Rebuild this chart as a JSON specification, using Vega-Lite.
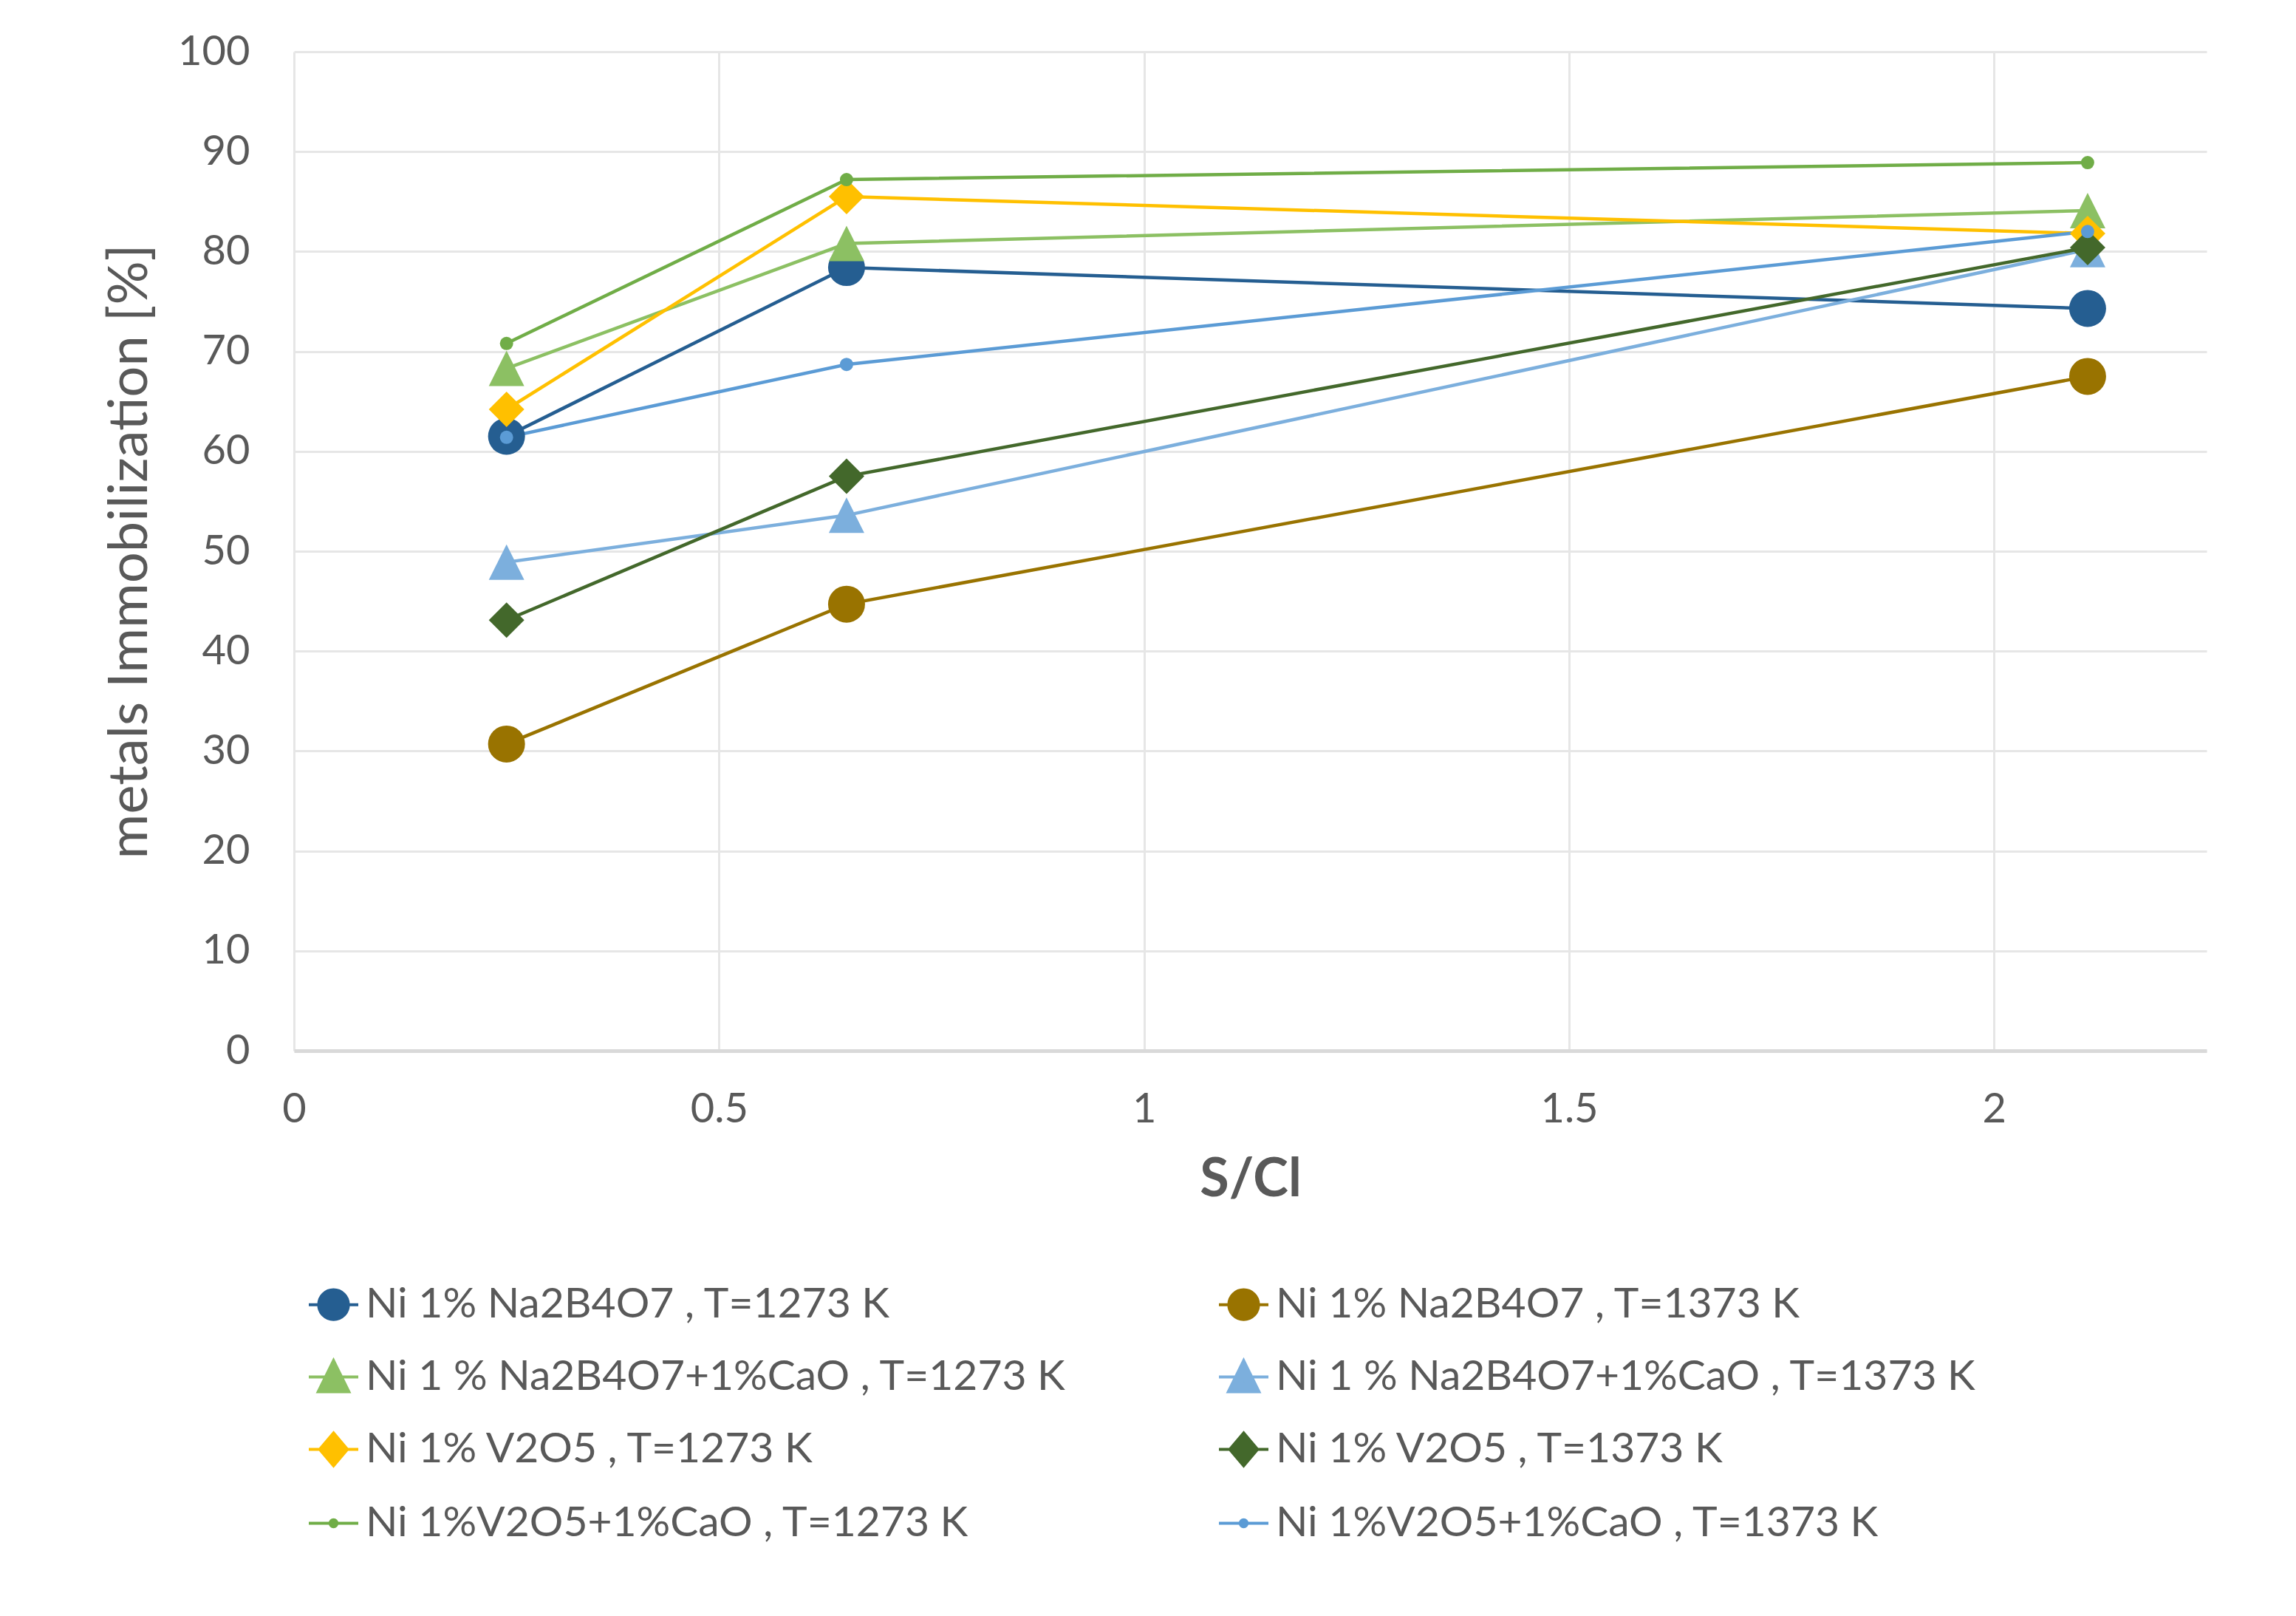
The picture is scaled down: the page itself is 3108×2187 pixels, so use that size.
{
  "$schema": "https://vega.github.io/schema/vega-lite/v6.json",
  "autosize": {"type": "none"},
  "width": 2589,
  "height": 1352,
  "padding": {"left": 398, "top": 70, "right": 121, "bottom": 765},
  "background": "white",
  "data": {"values": [
    {"series": "Ni 1% Na2B4O7 , T=1273 K", "sc": 0.25, "imm": 61.5},
    {"series": "Ni 1% Na2B4O7 , T=1273 K", "sc": 0.65, "imm": 78.4},
    {"series": "Ni 1% Na2B4O7 , T=1273 K", "sc": 2.11, "imm": 74.3},
    {"series": "Ni 1% Na2B4O7 , T=1373 K", "sc": 0.25, "imm": 30.7},
    {"series": "Ni 1% Na2B4O7 , T=1373 K", "sc": 0.65, "imm": 44.7},
    {"series": "Ni 1% Na2B4O7 , T=1373 K", "sc": 2.11, "imm": 67.5},
    {"series": "Ni 1 % Na2B4O7+1%CaO , T=1273 K", "sc": 0.25, "imm": 68.3},
    {"series": "Ni 1 % Na2B4O7+1%CaO , T=1273 K", "sc": 0.65, "imm": 80.8},
    {"series": "Ni 1 % Na2B4O7+1%CaO , T=1273 K", "sc": 2.11, "imm": 84.1},
    {"series": "Ni 1 % Na2B4O7+1%CaO , T=1373 K", "sc": 0.25, "imm": 48.9},
    {"series": "Ni 1 % Na2B4O7+1%CaO , T=1373 K", "sc": 0.65, "imm": 53.6},
    {"series": "Ni 1 % Na2B4O7+1%CaO , T=1373 K", "sc": 2.11, "imm": 80.2},
    {"series": "Ni 1% V2O5 , T=1273 K", "sc": 0.25, "imm": 64.2},
    {"series": "Ni 1% V2O5 , T=1273 K", "sc": 0.65, "imm": 85.5},
    {"series": "Ni 1% V2O5 , T=1273 K", "sc": 2.11, "imm": 81.8},
    {"series": "Ni 1% V2O5 , T=1373 K", "sc": 0.25, "imm": 43.1},
    {"series": "Ni 1% V2O5 , T=1373 K", "sc": 0.65, "imm": 57.5},
    {"series": "Ni 1% V2O5 , T=1373 K", "sc": 2.11, "imm": 80.4},
    {"series": "Ni 1%V2O5+1%CaO , T=1273 K", "sc": 0.25, "imm": 70.8},
    {"series": "Ni 1%V2O5+1%CaO , T=1273 K", "sc": 0.65, "imm": 87.2},
    {"series": "Ni 1%V2O5+1%CaO , T=1273 K", "sc": 2.11, "imm": 88.9},
    {"series": "Ni 1%V2O5+1%CaO , T=1373 K", "sc": 0.25, "imm": 61.4},
    {"series": "Ni 1%V2O5+1%CaO , T=1373 K", "sc": 0.65, "imm": 68.7},
    {"series": "Ni 1%V2O5+1%CaO , T=1373 K", "sc": 2.11, "imm": 82.0}
  ]},
  "encoding": {
    "x": {"field": "sc", "type": "quantitative",
      "scale": {"domain": [0, 2.25], "nice": false, "zero": false},
      "axis": {"values": [0, 0.5, 1, 1.5, 2], "format": "~g", "title": "S/Cl", "labelFlush": false,
        "titleFontWeight": "bold", "titleFontSize": 72, "titlePadding": 32,
        "labelPadding": 52, "domainColor": "#d9d9d9", "domainWidth": 5}},
    "y": {"field": "imm", "type": "quantitative",
      "scale": {"domain": [0, 100], "nice": false},
      "axis": {"values": [0, 10, 20, 30, 40, 50, 60, 70, 80, 90, 100], "title": "metals Immobilization [%]",
        "titleFontSize": 74, "titleFontWeight": "normal", "titlePadding": 26, "labelPadding": 60, "domain": false}}
  },
  "layer": [
    {
      "mark": {"type": "line", "strokeWidth": 4.5},
      "encoding": {
        "color": {"field": "series", "type": "nominal",
          "scale": {"domain": ["Ni 1% Na2B4O7 , T=1273 K", "Ni 1% Na2B4O7 , T=1373 K", "Ni 1 % Na2B4O7+1%CaO , T=1273 K", "Ni 1 % Na2B4O7+1%CaO , T=1373 K", "Ni 1% V2O5 , T=1273 K", "Ni 1% V2O5 , T=1373 K", "Ni 1%V2O5+1%CaO , T=1273 K", "Ni 1%V2O5+1%CaO , T=1373 K"],
            "range": ["#255E91", "#997300", "#8CC063", "#7CAFDD", "#FFC000", "#43682B", "#70AD47", "#5B9BD5"]}}
      }
    },
    {
      "transform": [{"filter": {"field": "series", "oneOf": ["Ni 1% Na2B4O7 , T=1273 K", "Ni 1% Na2B4O7 , T=1373 K"]}}],
      "mark": {"type": "point", "filled": true, "opacity": 1, "strokeWidth": 0, "size": 2500, "shape": "circle"},
      "encoding": {"color": {"field": "series", "type": "nominal"}}
    },
    {
      "transform": [{"filter": {"field": "series", "oneOf": ["Ni 1 % Na2B4O7+1%CaO , T=1273 K", "Ni 1 % Na2B4O7+1%CaO , T=1373 K"]}}],
      "mark": {"type": "point", "filled": true, "opacity": 1, "strokeWidth": 0, "size": 2304, "shape": "M0,-1L1,1L-1,1Z"},
      "encoding": {"color": {"field": "series", "type": "nominal"}}
    },
    {
      "transform": [{"filter": {"field": "series", "oneOf": ["Ni 1% V2O5 , T=1273 K", "Ni 1% V2O5 , T=1373 K"]}}],
      "mark": {"type": "point", "filled": true, "opacity": 1, "strokeWidth": 0, "size": 2304, "shape": "diamond"},
      "encoding": {"color": {"field": "series", "type": "nominal"}}
    },
    {
      "transform": [{"filter": {"field": "series", "oneOf": ["Ni 1%V2O5+1%CaO , T=1273 K", "Ni 1%V2O5+1%CaO , T=1373 K"]}}],
      "mark": {"type": "point", "filled": true, "opacity": 1, "strokeWidth": 0, "size": 324, "shape": "circle"},
      "encoding": {"color": {"field": "series", "type": "nominal"}}
    },
    {
      "transform": [{"filter": "false"}],
      "mark": {"type": "point", "filled": false, "opacity": 1, "strokeWidth": 4},
      "encoding": {
        "color": {"field": "series", "type": "nominal",
          "legend": {
            "title": null, "orient": "none", "legendX": 18, "legendY": 1660,
            "direction": "horizontal", "columns": 2, "columnPadding": 198, "rowPadding": 34,
            "symbolSize": 4489, "symbolStrokeWidth": 4, "symbolOpacity": 1, "labelOffset": 8, "labelLimit": 2000,
            "labelFontSize": 57, "labelColor": "#595959", "labelFont": "Lato"}},
        "shape": {"field": "series", "type": "nominal",
          "scale": {"domain": ["Ni 1% Na2B4O7 , T=1273 K", "Ni 1% Na2B4O7 , T=1373 K", "Ni 1 % Na2B4O7+1%CaO , T=1273 K", "Ni 1 % Na2B4O7+1%CaO , T=1373 K", "Ni 1% V2O5 , T=1273 K", "Ni 1% V2O5 , T=1373 K", "Ni 1%V2O5+1%CaO , T=1273 K", "Ni 1%V2O5+1%CaO , T=1373 K"],
            "range": [
              "M-1,0L1,0M0.6,0A0.6,0.6,0,1,1,-0.6,0A0.6,0.6,0,1,1,0.6,0M0.5,0A0.5,0.5,0,1,1,-0.5,0A0.5,0.5,0,1,1,0.5,0M0.4,0A0.4,0.4,0,1,1,-0.4,0A0.4,0.4,0,1,1,0.4,0M0.3,0A0.3,0.3,0,1,1,-0.3,0A0.3,0.3,0,1,1,0.3,0M0.2,0A0.2,0.2,0,1,1,-0.2,0A0.2,0.2,0,1,1,0.2,0M0.1,0A0.1,0.1,0,1,1,-0.1,0A0.1,0.1,0,1,1,0.1,0",
              "M-1,0L1,0M0.6,0A0.6,0.6,0,1,1,-0.6,0A0.6,0.6,0,1,1,0.6,0M0.5,0A0.5,0.5,0,1,1,-0.5,0A0.5,0.5,0,1,1,0.5,0M0.4,0A0.4,0.4,0,1,1,-0.4,0A0.4,0.4,0,1,1,0.4,0M0.3,0A0.3,0.3,0,1,1,-0.3,0A0.3,0.3,0,1,1,0.3,0M0.2,0A0.2,0.2,0,1,1,-0.2,0A0.2,0.2,0,1,1,0.2,0M0.1,0A0.1,0.1,0,1,1,-0.1,0A0.1,0.1,0,1,1,0.1,0",
              "M-1,0L1,0M0,-0.66L0.62,0.6L-0.62,0.6ZM0,-0.492L0.496,0.516L-0.496,0.516ZM0,-0.324L0.372,0.432L-0.372,0.432ZM0,-0.156L0.248,0.348L-0.248,0.348ZM0,0.012L0.124,0.264L-0.124,0.264Z",
              "M-1,0L1,0M0,-0.66L0.62,0.6L-0.62,0.6ZM0,-0.492L0.496,0.516L-0.496,0.516ZM0,-0.324L0.372,0.432L-0.372,0.432ZM0,-0.156L0.248,0.348L-0.248,0.348ZM0,0.012L0.124,0.264L-0.124,0.264Z",
              "M-1,0L1,0M0,-0.66L0.56,0L0,0.66L-0.56,0ZM0,-0.528L0.448,0L0,0.528L-0.448,0ZM0,-0.396L0.336,0L0,0.396L-0.336,0ZM0,-0.264L0.224,0L0,0.264L-0.224,0ZM0,-0.132L0.112,0L0,0.132L-0.112,0Z",
              "M-1,0L1,0M0,-0.66L0.56,0L0,0.66L-0.56,0ZM0,-0.528L0.448,0L0,0.528L-0.448,0ZM0,-0.396L0.336,0L0,0.396L-0.336,0ZM0,-0.264L0.224,0L0,0.264L-0.224,0ZM0,-0.132L0.112,0L0,0.132L-0.112,0Z",
              "M-1,0L1,0M0.14,0A0.14,0.14,0,1,1,-0.14,0A0.14,0.14,0,1,1,0.14,0M0.05,0A0.05,0.05,0,1,1,-0.05,0A0.05,0.05,0,1,1,0.05,0",
              "M-1,0L1,0M0.14,0A0.14,0.14,0,1,1,-0.14,0A0.14,0.14,0,1,1,0.14,0M0.05,0A0.05,0.05,0,1,1,-0.05,0A0.05,0.05,0,1,1,0.05,0"
            ]},
          "legend": {
            "title": null, "orient": "none", "legendX": 18, "legendY": 1660,
            "direction": "horizontal", "columns": 2, "columnPadding": 198, "rowPadding": 34,
            "symbolSize": 4489, "symbolStrokeWidth": 4, "symbolOpacity": 1, "labelOffset": 8, "labelLimit": 2000,
            "labelFontSize": 57, "labelColor": "#595959", "labelFont": "Lato"}}
      }
    }
  ],
  "config": {
    "font": "Lato",
    "view": {"stroke": null},
    "axis": {"labelFontSize": 56, "labelColor": "#595959", "titleColor": "#595959", "ticks": false,
      "gridColor": "#e6e6e6", "gridWidth": 3, "labelFont": "Lato", "titleFont": "Lato"}
  }
}
